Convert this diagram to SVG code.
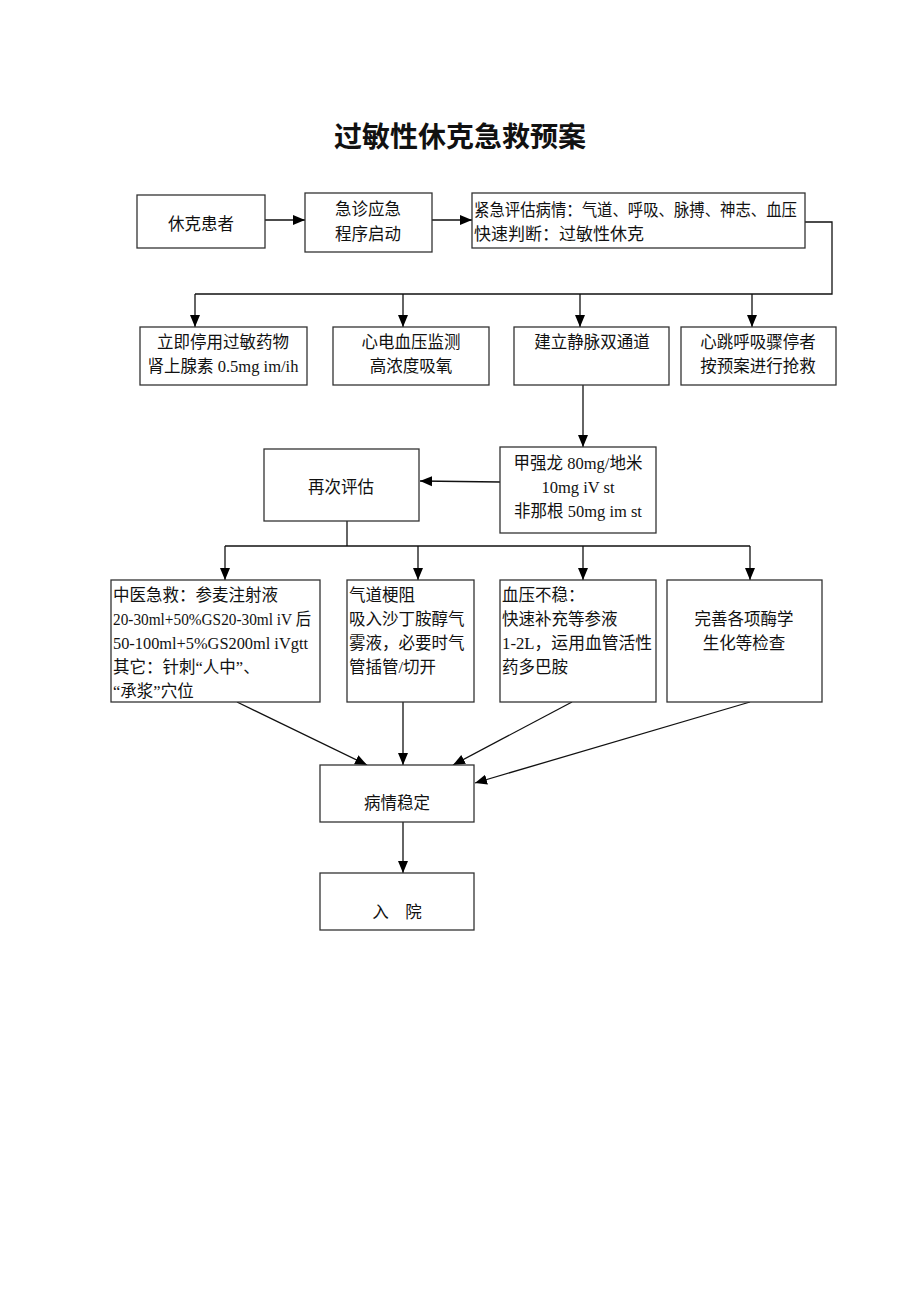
<svg xmlns="http://www.w3.org/2000/svg" width="920" height="1302" viewBox="0 0 920 1302">
<defs>
<marker id="ah" markerUnits="userSpaceOnUse" markerWidth="12" markerHeight="12" viewBox="0 0 12 12" refX="12" refY="6" orient="auto"><path d="M0,1 L12,6 L0,11 z" fill="#000"/></marker>
<style>
rect{fill:#fff;stroke:#333;stroke-width:1.3}
text{font-family:"Liberation Serif","Noto Sans CJK SC",serif;font-size:16.5px;fill:#111}
.c{text-anchor:middle}
.t{font-family:"Noto Sans CJK SC",sans-serif;font-size:28px;font-weight:bold;text-anchor:middle}
#conn line,#conn polyline{stroke:#111;stroke-width:1.3;fill:none}
.a{marker-end:url(#ah)}
</style>
</defs>
<rect x="0" y="0" width="920" height="1302" style="fill:#fff;stroke:none"/>
<text class="t" x="460" y="147">过敏性休克急救预案</text>
<g id="conn">
<line class="a" x1="265" y1="220" x2="305" y2="220"/>
<line class="a" x1="432" y1="220" x2="472" y2="220"/>
<polyline points="805,222 832,222 832,294 195,294"/>
<line class="a" x1="195" y1="294" x2="195" y2="327"/>
<line class="a" x1="403" y1="294" x2="403" y2="327"/>
<line class="a" x1="580" y1="294" x2="580" y2="327"/>
<line class="a" x1="752" y1="294" x2="752" y2="327"/>
<line class="a" x1="583" y1="385" x2="583" y2="447"/>
<line class="a" x1="500" y1="482" x2="420" y2="481"/>
<polyline points="347,521 347,546"/>
<line x1="225" y1="546" x2="750" y2="546"/>
<line class="a" x1="225" y1="546" x2="225" y2="580"/>
<line class="a" x1="418" y1="546" x2="418" y2="580"/>
<line class="a" x1="583" y1="546" x2="583" y2="580"/>
<line class="a" x1="750" y1="546" x2="750" y2="580"/>
<line class="a" x1="237" y1="702" x2="367" y2="765"/>
<line class="a" x1="403" y1="702" x2="403" y2="765"/>
<line class="a" x1="572" y1="702" x2="453" y2="765"/>
<line class="a" x1="750" y1="702" x2="475" y2="783"/>
<line class="a" x1="403" y1="822" x2="403" y2="873"/>
</g>
<g id="n1"><rect x="137" y="195" width="128" height="53"/><text class="c" x="201" y="230">休克患者</text></g>
<g id="n2"><rect x="305" y="193" width="127" height="59"/><text class="c" x="368" y="215">急诊应急</text><text class="c" x="368" y="240">程序启动</text></g>
<g id="n3"><rect x="472" y="193" width="333" height="55"/><text x="474" y="216" textLength="323" lengthAdjust="spacingAndGlyphs">紧急评估病情：气道、呼吸、脉搏、神志、血压</text><text x="474" y="240" textLength="170" lengthAdjust="spacingAndGlyphs">快速判断：过敏性休克</text></g>
<g id="n4"><rect x="140" y="327" width="167" height="58"/><text class="c" x="223" y="348">立即停用过敏药物</text><text class="c" x="223" y="372">肾上腺素 0.5mg im/ih</text></g>
<g id="n5"><rect x="333" y="327" width="156" height="58"/><text class="c" x="411" y="348">心电血压监测</text><text class="c" x="411" y="372">高浓度吸氧</text></g>
<g id="n6"><rect x="514" y="327" width="155" height="58"/><text class="c" x="592" y="348">建立静脉双通道</text></g>
<g id="n7"><rect x="681" y="327" width="155" height="58"/><text class="c" x="758" y="348">心跳呼吸骤停者</text><text class="c" x="758" y="372">按预案进行抢救</text></g>
<g id="n8"><rect x="500" y="447" width="156" height="86"/><text class="c" x="578" y="469">甲强龙 80mg/地米</text><text class="c" x="578" y="493">10mg iV st</text><text class="c" x="578" y="517">非那根 50mg im st</text></g>
<g id="n9"><rect x="264" y="449" width="155" height="72"/><text class="c" x="341" y="493">再次评估</text></g>
<g id="n10"><rect x="111" y="580" width="209" height="122"/><text x="113" y="601">中医急救：参麦注射液</text><text x="113" y="625" textLength="198" lengthAdjust="spacingAndGlyphs">20-30ml+50%GS20-30ml iV 后</text><text x="113" y="649" textLength="195" lengthAdjust="spacingAndGlyphs">50-100ml+5%GS200ml iVgtt</text><text x="113" y="673">其它：针刺“人中”、</text><text x="113" y="697">“承浆”穴位</text></g>
<g id="n11"><rect x="347" y="580" width="127" height="122"/><text x="349" y="601">气道梗阻</text><text x="349" y="625">吸入沙丁胺醇气</text><text x="349" y="649">雾液，必要时气</text><text x="349" y="673">管插管/切开</text></g>
<g id="n12"><rect x="500" y="580" width="156" height="122"/><text x="502" y="601">血压不稳：</text><text x="502" y="625">快速补充等参液</text><text x="502" y="649" textLength="150" lengthAdjust="spacingAndGlyphs">1-2L，运用血管活性</text><text x="502" y="673">药多巴胺</text></g>
<g id="n13"><rect x="667" y="580" width="155" height="122"/><text class="c" x="744" y="625">完善各项酶学</text><text class="c" x="744" y="649">生化等检查</text></g>
<g id="n14"><rect x="320" y="765" width="154" height="57"/><text class="c" x="397" y="809">病情稳定</text></g>
<g id="n15"><rect x="320" y="873" width="154" height="57"/><text class="c" x="397" y="918" xml:space="preserve">入    院</text></g>
</svg>
